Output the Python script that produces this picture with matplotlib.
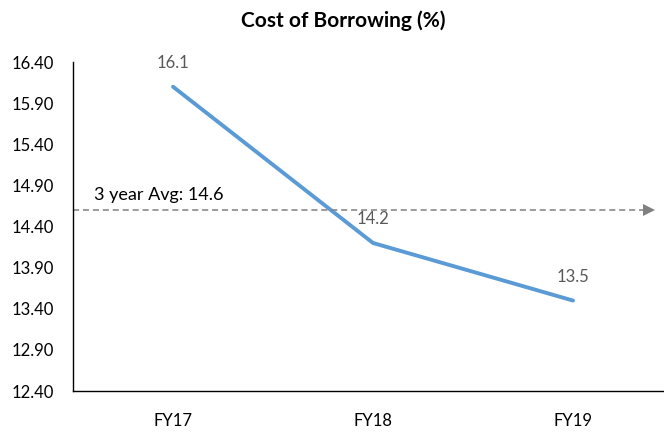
import matplotlib.pyplot as plt

years = ["FY17", "FY18", "FY19"]
cost = [16.1, 14.2, 13.5]
avg_value = 14.6
avg_label = "3 year Avg: 14.6"
y_ticks = [12.40, 12.90, 13.40, 13.90, 14.40, 14.90, 15.40, 15.90, 16.40]

plt.rcParams['font.family'] = ['Lato', 'DejaVu Sans']

fig = plt.figure(figsize=(6.64, 4.34), dpi=100)
# axes runs past the right edge, so the bottom line reaches the border
ax = fig.add_axes([0.11, 0.099, 0.9036, 0.758])

x = list(range(len(years)))
ax.plot(x, cost, color="#5B9BD5", linewidth=2.8, solid_capstyle="round")
for xi, v in zip(x, cost):
    ax.annotate(f"{v:.1f}", (xi, v), xytext=(0, 13.5), textcoords="offset points",
                ha="center", va="baseline", fontsize=12, color="#595959")

# average line, dashed, ending in a triangle head
x_arrow = 2.38
ax.plot([-0.5, x_arrow], [avg_value, avg_value], color="#808080",
        linewidth=1.1, linestyle=(0, (4, 2.5)))
ax.plot([x_arrow], [avg_value], marker=">", color="#808080", markersize=8,
        markeredgewidth=0)
ax.annotate(avg_label, (-0.395, avg_value), xytext=(0, 11),
            textcoords="offset points", fontsize=13, color="black",
            ha="left", va="center")

ax.set_xlim(-0.5, 2.5)
ax.set_ylim(12.40, 16.40)
ax.set_yticks(y_ticks)
ax.set_yticklabels([f"{t:.2f}" for t in y_ticks])
ax.set_xticks(x)
ax.set_xticklabels(years)
ax.tick_params(length=0, labelsize=12)
ax.tick_params(axis="y", pad=13.5)
ax.tick_params(axis="x", pad=16)

for side in ["top", "right"]:
    ax.spines[side].set_visible(False)
for side in ["left", "bottom"]:
    ax.spines[side].set_color("black")
    ax.spines[side].set_linewidth(1.0)

fig.text(0.517, 0.952, "Cost of Borrowing (%)", ha="center", va="center",
         fontsize=15, fontweight="bold")

fig.savefig("out.png", dpi=100)
